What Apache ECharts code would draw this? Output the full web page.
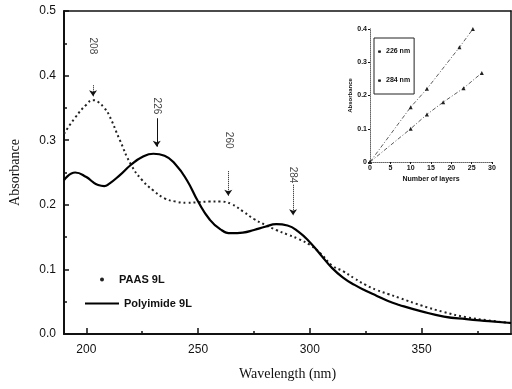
<!DOCTYPE html>
<html>
<head>
<meta charset="utf-8">
<script src="https://cdn.jsdelivr.net/npm/echarts@6/dist/echarts.min.js"></script>
<style>
  html, body { margin: 0; padding: 0; background: #fff; }
  #chart { width: 512px; height: 389px; }
</style>
</head>
<body>
<div id="chart"></div>
<script>
// --- data ---
const wavelength = [190, 195, 200, 203, 205, 208, 210, 215, 220, 225, 230, 235, 240, 245, 250, 255, 260, 265, 270, 275,
  280, 285, 290, 295, 300, 305, 310, 315, 320, 325, 330, 335, 340, 350, 360, 370, 380, 390];
const paas = [0.31, 0.335, 0.355, 0.362, 0.36, 0.35, 0.34, 0.30, 0.262, 0.238, 0.222, 0.21, 0.205, 0.203, 0.204, 0.205,
  0.205, 0.201, 0.19, 0.178, 0.169, 0.161, 0.154, 0.147, 0.138, 0.124, 0.106, 0.097, 0.086, 0.076, 0.068, 0.062, 0.056,
  0.044, 0.034, 0.026, 0.021, 0.017];
const polyimide = [0.238, 0.25, 0.243, 0.235, 0.231, 0.229, 0.232, 0.246, 0.262, 0.274, 0.279, 0.276, 0.262, 0.238,
  0.205, 0.178, 0.162, 0.156, 0.157, 0.161, 0.166, 0.170, 0.168, 0.158, 0.142, 0.122, 0.102, 0.087, 0.076, 0.067, 0.059,
  0.051, 0.045, 0.035, 0.027, 0.023, 0.020, 0.017];

// peak annotations: label, wavelength, arrow start / tip, label position
const peakLabels = ['208', '226', '260', '284'];
const peakX = [203, 231.5, 263.5, 292.5];
const arrowFrom = [0.385, 0.334, 0.252, 0.231];
const arrowTo = [0.368, 0.29, 0.214, 0.184];
const labelY = [0.446, 0.353, 0.30, 0.246];

const xTicks = [200, 250, 300, 350];
const xMinorTicks = [225, 275, 325, 375];

// inset: absorbance vs number of layers
const insetLayers226 = [0, 10, 14, 22, 25.3];
const inset226 = [0, 0.165, 0.22, 0.345, 0.4];
const insetLayers284 = [0, 10, 14, 18, 23, 27.5];
const inset284 = [0, 0.10, 0.143, 0.18, 0.222, 0.268];

const pair = (xs, ys) => xs.map((x, i) => [x, ys[i]]);

const chart = echarts.init(document.getElementById('chart'));

const tickFont = { color: '#111', fontSize: 12, fontFamily: 'Liberation Sans' };
const insetFont = { color: '#111', fontSize: 7, fontWeight: 'bold', fontFamily: 'Liberation Sans' };

const option = {
  backgroundColor: '#fff',
  animation: false,
  grid: [
    { left: 64, right: 1, top: 11, bottom: 55 },
    { left: 370, top: 29, width: 122, height: 133 }
  ],
  legend: [
    {
      data: [{ name: 'PAAS 9L', icon: 'circle' }],
      left: 95, top: 269, itemWidth: 4, itemHeight: 4,
      textStyle: { fontSize: 11, fontWeight: 'bold', fontFamily: 'Liberation Sans', color: '#111', padding: [0, 0, 0, 10] }
    },
    {
      data: [{ name: 'Polyimide 9L', icon: 'rect' }],
      left: 80, top: 293, itemWidth: 34, itemHeight: 2,
      textStyle: { fontSize: 11, fontWeight: 'bold', fontFamily: 'Liberation Sans', color: '#111' }
    },
    {
      data: ['226 nm', '284 nm'],
      orient: 'vertical', left: 374, top: 38,
      itemWidth: 3, itemHeight: 3, itemGap: 22,
      padding: [10, 4, 10, 3],
      borderColor: '#222', borderWidth: 1,
      textStyle: insetFont
    }
  ],
  xAxis: [
    {
      type: 'value', gridIndex: 0, min: 190, max: 390,
      name: 'Wavelength (nm)', nameLocation: 'middle', nameGap: 33,
      nameTextStyle: { fontSize: 14, fontFamily: 'Liberation Serif', color: '#111' },
      axisLine: { lineStyle: { color: '#111', width: 2 } },
      axisTick: { inside: true, length: 6, customValues: xTicks, lineStyle: { color: '#111', width: 1.5 } },
      axisLabel: { ...tickFont, margin: 10, customValues: xTicks },
      splitLine: { show: false }
    },
    {
      // minor ticks on the bottom axis
      type: 'value', gridIndex: 0, min: 190, max: 390, position: 'bottom',
      axisLine: { show: false },
      axisTick: { inside: true, length: 3, customValues: xMinorTicks, lineStyle: { color: '#111', width: 1.5 } },
      axisLabel: { show: false },
      splitLine: { show: false }
    },
    {
      // top frame
      type: 'value', gridIndex: 0, min: 190, max: 390, position: 'top',
      axisLine: { lineStyle: { color: '#111', width: 1.5 } },
      axisTick: { show: false }, axisLabel: { show: false }, splitLine: { show: false }
    },
    {
      type: 'value', gridIndex: 1, min: 0, max: 30, interval: 5,
      name: 'Number of layers', nameLocation: 'middle', nameGap: 14,
      nameTextStyle: insetFont,
      axisLine: { lineStyle: { color: '#111', width: 1 } },
      axisTick: { inside: false, length: 2, lineStyle: { color: '#111' } },
      axisLabel: { ...insetFont, margin: 3 },
      splitLine: { show: false }
    },
    {
      type: 'value', gridIndex: 1, min: 0, max: 30, position: 'top',
      axisLine: { lineStyle: { color: '#999', width: 1, type: 'dotted' } },
      axisTick: { show: false }, axisLabel: { show: false }, splitLine: { show: false }
    }
  ],
  yAxis: [
    {
      type: 'value', gridIndex: 0, min: 0, max: 0.5, interval: 0.1,
      name: 'Absorbance', nameLocation: 'middle', nameGap: 42,
      nameTextStyle: { fontSize: 14, fontFamily: 'Liberation Serif', color: '#111' },
      axisLine: { lineStyle: { color: '#111', width: 2 } },
      axisTick: { inside: true, length: 5, lineStyle: { color: '#111', width: 1.5 } },
      minorTick: { show: true, splitNumber: 2, length: 3, lineStyle: { color: '#111', width: 1.5 } },
      axisLabel: { ...tickFont, margin: 8, formatter: v => v.toFixed(1) },
      splitLine: { show: false }
    },
    {
      // right frame
      type: 'value', gridIndex: 0, min: 0, max: 0.5, position: 'right',
      axisLine: { lineStyle: { color: '#111', width: 1.5 } },
      axisTick: { show: false }, axisLabel: { show: false }, splitLine: { show: false }
    },
    {
      type: 'value', gridIndex: 1, min: 0, max: 0.4, interval: 0.1,
      name: 'Absorbance', nameLocation: 'middle', nameGap: 14,
      nameTextStyle: { ...insetFont, fontSize: 6 },
      axisLine: { lineStyle: { color: '#111', width: 1 } },
      axisTick: { inside: false, length: 2, lineStyle: { color: '#111' } },
      axisLabel: { ...insetFont, margin: 3, formatter: v => (v === 0 ? '0' : v.toFixed(1)) },
      splitLine: { show: false }
    },
    {
      type: 'value', gridIndex: 1, min: 0, max: 0.4, position: 'right',
      axisLine: { lineStyle: { color: '#999', width: 1, type: 'dotted' } },
      axisTick: { show: false }, axisLabel: { show: false }, splitLine: { show: false }
    }
  ],
  series: [
    {
      name: 'PAAS 9L', type: 'line', xAxisIndex: 0, yAxisIndex: 0,
      data: pair(wavelength, paas), smooth: true, symbol: 'none',
      itemStyle: { color: '#222' },
      lineStyle: { color: '#222', width: 2, type: [2, 3] }
    },
    {
      name: 'Polyimide 9L', type: 'line', xAxisIndex: 0, yAxisIndex: 0,
      data: pair(wavelength, polyimide), smooth: true, symbol: 'none',
      itemStyle: { color: '#000' },
      lineStyle: { color: '#000', width: 2.2 },
      markLine: {
        silent: true, symbol: ['none', 'arrow'], symbolSize: 6,
        label: { show: false },
        itemStyle: { color: '#111' },
        data: peakX.map((x, i) => [
          { coord: [x, arrowFrom[i]], lineStyle: { color: '#111', width: 1, type: i === 1 ? 'solid' : 'dotted' } },
          { coord: [x, arrowTo[i]] }
        ])
      }
    },
    {
      name: 'peaks', type: 'scatter', xAxisIndex: 0, yAxisIndex: 0,
      data: pair(peakX, labelY), symbolSize: 0, silent: true,
      label: {
        show: true, position: 'inside',
        formatter: p => peakLabels[p.dataIndex],
        rotate: -90,
        fontSize: 10, fontFamily: 'Liberation Sans', color: '#111'
      }
    },
    {
      name: '226 nm', type: 'line', xAxisIndex: 3, yAxisIndex: 2,
      data: pair(insetLayers226, inset226), symbol: 'triangle', symbolSize: 4,
      itemStyle: { color: '#222' },
      lineStyle: { color: '#333', width: 0.8, type: [4, 2, 1, 2] }
    },
    {
      name: '284 nm', type: 'line', xAxisIndex: 3, yAxisIndex: 2,
      data: pair(insetLayers284, inset284), symbol: 'triangle', symbolSize: 4,
      itemStyle: { color: '#222' },
      lineStyle: { color: '#333', width: 0.8, type: [4, 2, 1, 2] }
    }
  ]
};

chart.setOption(option);
</script>
</body>
</html>
